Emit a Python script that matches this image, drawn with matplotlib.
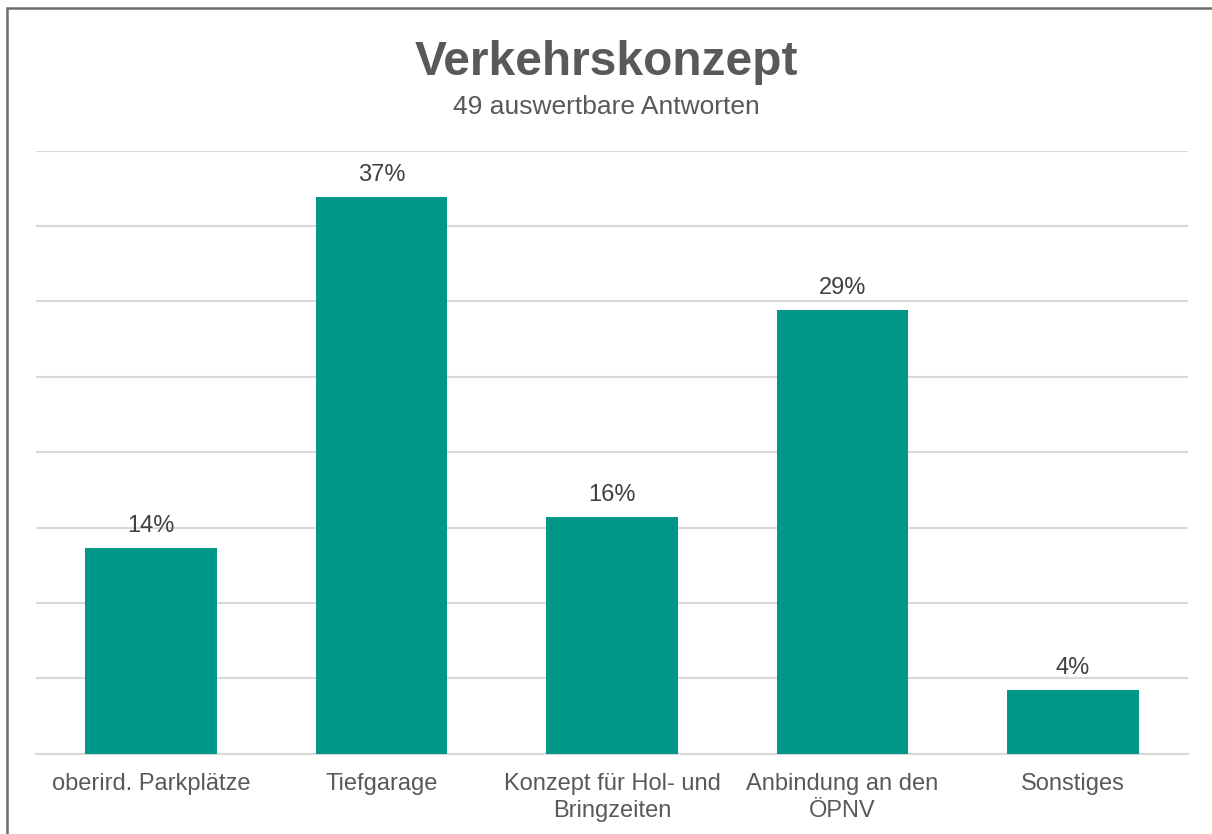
import matplotlib.pyplot as plt
from matplotlib.patches import Rectangle

kategorien = ["oberird. Parkplätze", "Tiefgarage", "Konzept für Hol- und\nBringzeiten",
              "Anbindung an den\nÖPNV", "Sonstiges"]
anteile = [13.65, 36.9, 15.7, 29.4, 4.25]

plt.rcParams['font.family'] = ['Liberation Sans', 'DejaVu Sans']

fig = plt.figure(figsize=(12.12, 8.34), dpi=100)
ax = fig.add_axes([0.0297, 0.0962, 0.9505, 0.7232])

x = list(range(len(kategorien)))
ax.bar(x, anteile, width=0.571, color='#009688', zorder=3)

for xi, wert in zip(x, anteile):
	ax.annotate(f"{wert:.0f}%", (xi, wert), xytext=(0, 11.5), textcoords='offset points',
				ha='center', va='baseline', fontsize=17, color='#404040')

ax.set_xlim(-0.5, 4.5)
ax.set_ylim(0, 40)
ax.set_yticks(range(0, 41, 5))
ax.yaxis.grid(True, color='#d9d9d9', linewidth=1.5, zorder=0)
ax.tick_params(axis='y', left=False, labelleft=False)
ax.set_xticks(x)
ax.set_xticklabels(kategorien, fontsize=17, color='#595959', linespacing=1.3)
ax.tick_params(axis='x', length=0, pad=14)
for s in ['top', 'right', 'left']:
	ax.spines[s].set_visible(False)
ax.spines['bottom'].set_color('#d9d9d9')
ax.spines['bottom'].set_linewidth(1.5)

fig.text(0.5, 1 - 75 / 834, "Verkehrskonzept", ha='center', va='baseline',
		 fontsize=34.5, fontweight='bold', color='#595959')
fig.text(0.5, 1 - 114 / 834, "49 auswertbare Antworten", ha='center', va='baseline',
		 fontsize=19, color='#595959')

rahmen = Rectangle((6.5 / 1212, -0.02), 1.05, 1.02 - 8.5 / 834, transform=fig.transFigure,
				   facecolor='none', edgecolor='#6d6d6d', linewidth=1.8, clip_on=False)
fig.add_artist(rahmen)

fig.savefig("out.png", dpi=100)
